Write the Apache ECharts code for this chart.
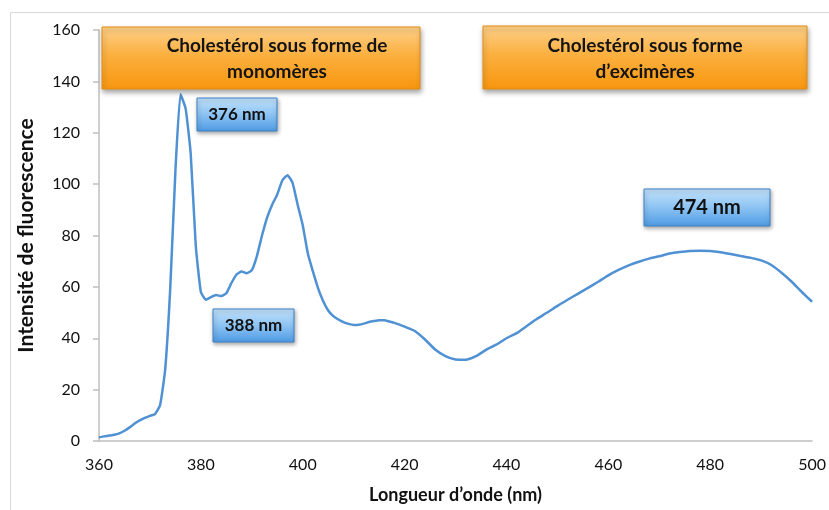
<!DOCTYPE html>
<html>
<head>
<meta charset="utf-8">
<script src="https://cdn.jsdelivr.net/npm/echarts@6/dist/echarts.min.js"></script>
<style>
  html, body { margin: 0; padding: 0; background: #ffffff; }
  #chart { width: 829px; height: 510px; }
</style>
</head>
<body>
<div id="chart"></div>
<script>
// Emission spectrum of cholesterol probe: wavelength (nm) vs. fluorescence intensity
const wavelengths = [
  360, 361, 362, 363, 364, 365, 366, 367, 368, 369,
  370, 371, 372, 373, 374, 375, 376, 377, 378, 379,
  380, 381, 382, 383, 384, 385, 386, 387, 388, 389,
  390, 391, 392, 393, 394, 395, 396, 397, 398, 399,
  400, 401, 402, 403, 404, 405, 406, 407, 408, 409,
  410, 411, 412, 413, 414, 415, 416, 417, 418, 419,
  420, 422, 424, 426, 428, 430, 432, 434, 436, 438,
  440, 442, 444, 446, 448, 450, 452, 454, 456, 458,
  460, 462, 464, 466, 468, 470, 472, 474, 476, 478,
  480, 482, 484, 486, 488, 490, 492, 494, 496, 498,
  500
];
const intensity = [
  1.4, 1.8, 2.1, 2.4, 3.0, 4.0, 5.3, 6.8, 8.0, 9.0,
  9.8, 10.5, 14, 28, 60, 105, 135, 129.5, 112, 76,
  58, 55, 56, 56.8, 56.4, 57.5, 61.5, 64.8, 66, 65.3,
  66.5, 72, 80, 87, 92, 96, 101.5, 103.5, 100.5, 92,
  84, 73, 66, 59.5, 54.5, 50.8, 48.6, 47.3, 46.3, 45.6,
  45.2, 45.3, 45.7, 46.3, 46.7, 47, 47, 46.5, 46, 45.3,
  44.5, 42.8, 39.5, 35.6, 33, 31.7, 31.6, 33, 35.5, 37.5,
  40, 42, 44.8, 47.6, 50, 52.6, 55, 57.3, 59.6, 62,
  64.5, 66.6, 68.4, 69.8, 71, 71.9, 73, 73.6, 74, 74.1,
  74, 73.5, 72.8, 72, 71.3, 70.3, 68.5, 65.5, 62, 58,
  54.2
];

const xTicks = { min: 360, max: 500, step: 20 };
const yTicks = { min: 0, max: 160, step: 20 };

const regionTitles = ['Cholestérol sous forme de\nmonomères', 'Cholestérol sous forme\nd\u2019excimères'];
const peakLabels = ['376 nm', '388 nm', '474 nm'];

const FONT = 'Lato, "Open Sans", "DejaVu Sans", sans-serif';
const AXIS_GREY = '#bfbfbf';

const seriesData = wavelengths.map((w, i) => [w, intensity[i]]);

function orangeBox(x, y, w, h, label, cx, cy) {
  return [
    {
      type: 'rect', z: 10,
      shape: { x: x, y: y, width: w, height: h },
      style: {
        fill: {
          type: 'linear', x: 0, y: 0, x2: 0, y2: 1,
          colorStops: [
            { offset: 0, color: '#fdd08a' },
            { offset: 0.45, color: '#fbb040' },
            { offset: 1, color: '#f7960e' }
          ]
        },
        stroke: '#e58d12', lineWidth: 1,
        shadowBlur: 5, shadowColor: 'rgba(0,0,0,0.35)', shadowOffsetX: 1, shadowOffsetY: 3
      }
    },
    {
      type: 'text', z: 11,
      x: cx, y: cy,
      style: {
        text: label, fill: '#141414',
        font: 'bold 19px ' + FONT,
        align: 'center', verticalAlign: 'middle', lineHeight: 26
      }
    }
  ];
}

function blueBox(x, y, w, h, label, size) {
  return [
    {
      type: 'rect', z: 10,
      shape: { x: x, y: y, width: w, height: h },
      style: {
        fill: {
          type: 'linear', x: 0, y: 0, x2: 0, y2: 1,
          colorStops: [
            { offset: 0, color: '#c4e3fb' },
            { offset: 0.5, color: '#8cc3f3' },
            { offset: 1, color: '#4e9be4' }
          ]
        },
        stroke: '#3f82c8', lineWidth: 1,
        shadowBlur: 4, shadowColor: 'rgba(0,0,0,0.35)', shadowOffsetX: 1, shadowOffsetY: 2
      }
    },
    {
      type: 'text', z: 11,
      x: x + w / 2, y: y + h / 2,
      style: {
        text: label, fill: '#111111',
        font: 'bold ' + size + 'px ' + FONT,
        align: 'center', verticalAlign: 'middle'
      }
    }
  ];
}

const chart = echarts.init(document.getElementById('chart'), null, { renderer: 'canvas' });

const graphics = [
  // outer chart frame
  {
    type: 'rect', z: 0, silent: true,
    shape: { x: 10.5, y: 12.5, width: 840, height: 520 },
    style: { fill: 'none', stroke: '#d9d9d9', lineWidth: 1 }
  }
]
  .concat(orangeBox(102, 27, 318, 62, regionTitles[0], 277, 59))
  .concat(orangeBox(483, 26, 324, 63, regionTitles[1], 645, 59))
  .concat(blueBox(197, 98, 80, 33, peakLabels[0], 17))
  .concat(blueBox(213, 309, 81, 33, peakLabels[1], 17))
  .concat(blueBox(644, 189, 126, 37, peakLabels[2], 20));

chart.setOption({
  backgroundColor: '#ffffff',
  animation: false,
  grid: { left: 99, right: 16, top: 30, bottom: 69, containLabel: false },
  xAxis: {
    type: 'value',
    min: xTicks.min, max: xTicks.max, interval: xTicks.step,
    name: 'Longueur d\u2019onde (nm)',
    nameLocation: 'middle', nameGap: 45,
    nameTextStyle: { fontFamily: FONT, fontWeight: 'bold', fontSize: 18, color: '#111111' },
    axisLine: { show: true, lineStyle: { color: AXIS_GREY, width: 1.5 } },
    axisTick: { show: false },
    axisLabel: { margin: 16, fontFamily: FONT, fontSize: 16, color: '#111111' },
    splitLine: { show: false }
  },
  yAxis: {
    type: 'value',
    min: yTicks.min, max: yTicks.max, interval: yTicks.step,
    name: 'Intensité de fluorescence',
    nameLocation: 'middle', nameGap: 62, nameRotate: 90,
    nameTextStyle: { fontFamily: FONT, fontWeight: 'bold', fontSize: 21, color: '#111111' },
    axisLine: { show: true, lineStyle: { color: AXIS_GREY, width: 1.5 } },
    axisTick: { show: true, inside: false, length: 6, lineStyle: { color: AXIS_GREY, width: 1.5 } },
    axisLabel: { margin: 19, fontFamily: FONT, fontSize: 16, color: '#111111' },
    splitLine: { show: false }
  },
  series: [{
    type: 'line',
    data: seriesData,
    showSymbol: false,
    smooth: 0.15,
    lineStyle: { color: '#4f91d3', width: 2.5 },
    z: 5
  }],
  graphic: graphics
});
</script>
</body>
</html>
